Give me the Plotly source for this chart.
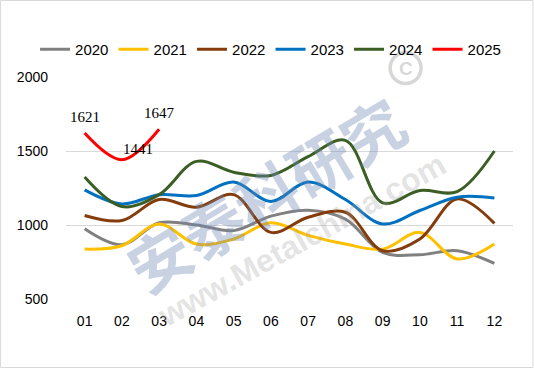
import plotly.graph_objects as go

months = ["01", "02", "03", "04", "05", "06", "07", "08", "09", "10", "11", "12"]
y2020 = [975, 867, 1015, 1000, 962, 1060, 1100, 1040, 815, 799, 826, 740]
y2021 = [837, 860, 1007, 871, 905, 1015, 930, 871, 837, 950, 771, 871]
y2022 = [1064, 1030, 1172, 1120, 1205, 950, 1052, 1086, 826, 905, 1176, 1011]
y2023 = [1237, 1142, 1205, 1199, 1290, 1159, 1290, 1172, 1007, 1098, 1188, 1183]
y2024 = [1324, 1125, 1205, 1430, 1357, 1335, 1462, 1572, 1150, 1233, 1226, 1500]
y2025 = [1621, 1441, 1647]

series = [
    ("2020", y2020, "#808080"),
    ("2021", y2021, "#FFC000"),
    ("2022", y2022, "#843C0C"),
    ("2023", y2023, "#0070C0"),
    ("2024", y2024, "#3B5E25"),
    ("2025", y2025, "#FF0000"),
]

fig = go.Figure()
for name, vals, col in series:
    fig.add_trace(go.Scatter(
        x=months[:len(vals)], y=vals, name=name, mode="lines",
        line=dict(color=col, width=3, shape="spline", smoothing=1),
        hoverinfo="skip",
    ))

L, R, T, B = 66, 20.5, 77, 69
W, H = 534, 368
pw, ph = W - L - R, H - T - B

def px(xp):
    return (xp - L) / pw

def py(yp):
    return 1 - (yp - T) / ph

# watermark (drawn first so data labels sit above)
fig.add_annotation(xref="paper", yref="paper", x=px(265), y=py(193),
                   xanchor="center", yanchor="middle",
                   text="<b>安泰科研究</b>", showarrow=False, textangle=-31,
                   font=dict(family="Noto Sans CJK SC", size=62, color="rgba(110,138,178,0.38)"))
fig.add_annotation(xref="paper", yref="paper", x=px(302), y=py(240),
                   xanchor="center", yanchor="middle",
                   text="<b>www.Metalchina.com</b>", showarrow=False, textangle=-29,
                   font=dict(family="Liberation Sans", size=32, color="rgba(160,160,160,0.30)"))
# copyright mark: ring shape + letter
fig.add_shape(type="circle", xref="paper", yref="paper",
              x0=px(406 - 15.5), x1=px(406 + 15.5), y0=py(68 + 15.5), y1=py(68 - 15.5),
              line=dict(color="rgba(150,150,150,0.38)", width=3.5), fillcolor="rgba(0,0,0,0)")
fig.add_annotation(xref="paper", yref="paper", x=px(406), y=py(69),
                   xanchor="center", yanchor="middle",
                   text="<b>C</b>", showarrow=False,
                   font=dict(family="Liberation Sans", size=19, color="rgba(150,150,150,0.38)"))

# data labels for 2025
label_pos = [("center", "bottom", 0, 6), ("left", "bottom", -1, 1), ("center", "bottom", 0, 6)]
for i, v in enumerate(y2025):
    xa, ya, xs, ys = label_pos[i]
    fig.add_annotation(x=i, y=v, text=str(v), showarrow=False,
                       xanchor=xa, yanchor=ya, xshift=xs, yshift=ys,
                       font=dict(family="Liberation Serif", size=15, color="#000000"))

# outer border
fig.add_shape(type="rect", xref="paper", yref="paper",
              x0=px(0.5), x1=px(W - 0.5), y0=py(0.5), y1=py(H - 0.5),
              line=dict(color="#D9D9D9", width=1), fillcolor="rgba(0,0,0,0)", layer="below")

fig.update_layout(
    width=W, height=H,
    margin=dict(l=L, r=R, t=T, b=B, autoexpand=False),
    paper_bgcolor="white", plot_bgcolor="white",
    font=dict(family="Liberation Sans", size=14, color="#000000"),
    showlegend=True,
    legend=dict(orientation="h", xref="paper", yref="paper",
                x=px(35), y=py(33), xanchor="left", yanchor="top",
                font=dict(family="Liberation Sans", size=15, color="#000000"),
                entrywidth=33.5, entrywidthmode="pixels", tracegroupgap=0,
                bgcolor="rgba(0,0,0,0)"),
    xaxis=dict(type="category", categoryorder="array", categoryarray=months,
               range=[-0.5, 11.5], showgrid=False, showline=False, zeroline=False,
               ticks="", ticklabelstandoff=12,
               tickfont=dict(family="Liberation Sans", size=14)),
    yaxis=dict(range=[500, 2000], tickvals=[500, 1000, 1500, 2000],
               showgrid=True, gridcolor="#D9D9D9", gridwidth=1, zeroline=False,
               showline=False, ticks="", ticklabelstandoff=17,
               tickfont=dict(family="Liberation Sans", size=14)),
)

fig.write_html("out.html", config={"displayModeBar": False},
               post_script="document.body.style.margin='0';")
